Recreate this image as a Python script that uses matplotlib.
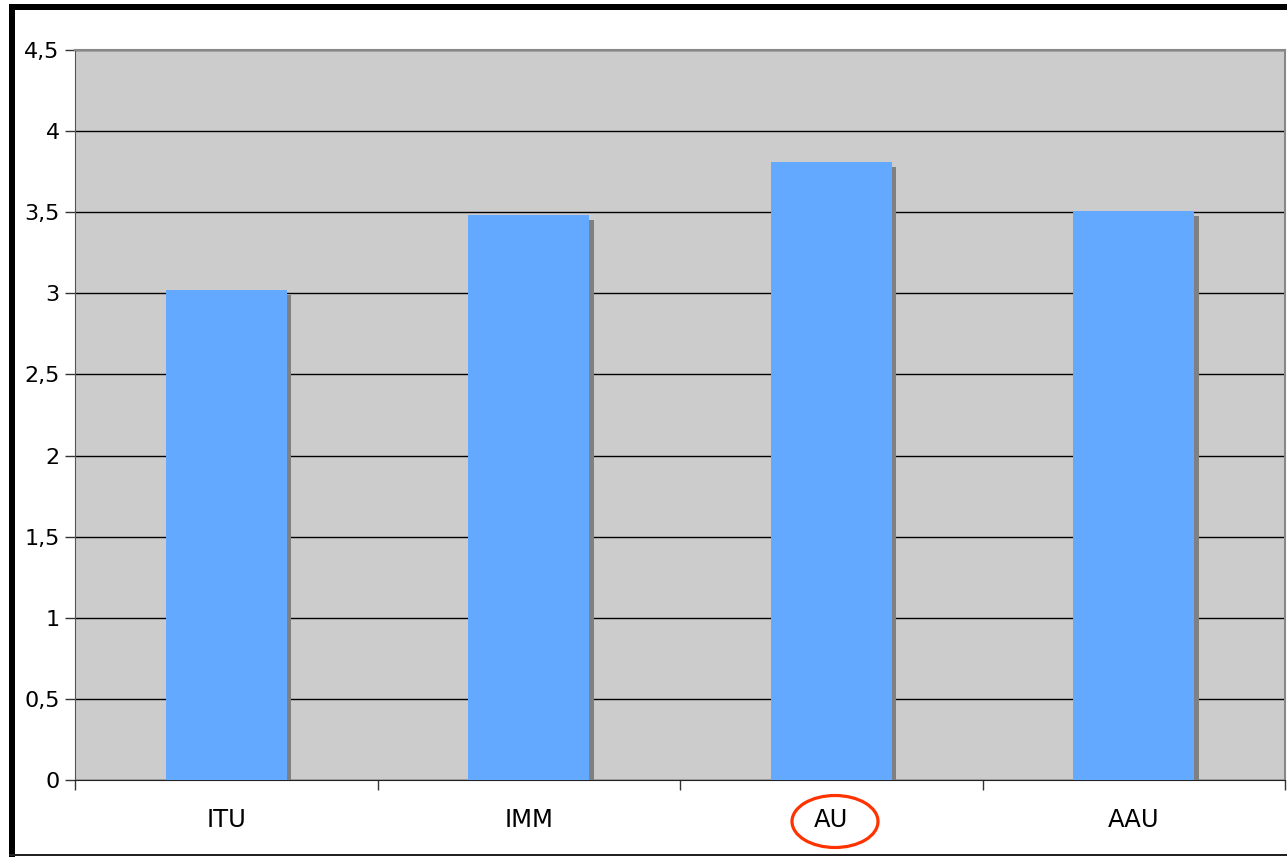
import matplotlib
matplotlib.use("Agg")
import matplotlib.pyplot as plt
import matplotlib.patheffects as pe
from matplotlib.patches import Ellipse, Rectangle
from matplotlib.ticker import FixedLocator, FuncFormatter

categories = ["ITU", "IMM", "AU", "AAU"]
values = [3.02, 3.48, 3.81, 3.51]
yticks = [0, 0.5, 1, 1.5, 2, 2.5, 3, 3.5, 4, 4.5]
highlight = "AU"

W, H = 1287, 857
fig = plt.figure(figsize=(W / 100, H / 100), dpi=100)
fig.patch.set_facecolor("white")
plt.rcParams["font.family"] = ["DejaVu Sans"]

ax = fig.add_axes([75 / W, 1 - 780 / H, (1285 - 75) / W, (780 - 50) / H])
ax.set_facecolor("#CCCCCC")
ax.set_axisbelow(True)

x = list(range(len(categories)))
bars = ax.bar(x, values, width=0.4, color="#63A9FF", edgecolor="none", zorder=3)
for b in bars:
    b.set_path_effects([pe.SimplePatchShadow(offset=(3.2, -3.6), shadow_rgbFace="#808080", alpha=1.0), pe.Normal()])

ax.set_xlim(-0.5, len(categories) - 0.5)
ax.set_ylim(0, 4.5)
ax.set_yticks(yticks)
ax.yaxis.set_major_formatter(FuncFormatter(lambda v, p: ("%g" % v).replace(".", ",")))
ax.yaxis.grid(True, color="black", linewidth=1.0)
ax.tick_params(axis="y", direction="out", length=7, width=1, color="#333333", labelsize=16, pad=4)

ax.set_xticks(x)
ax.set_xticklabels(categories)
ax.tick_params(axis="x", which="major", length=0, labelsize=17.5, pad=20)
ax.xaxis.set_minor_locator(FixedLocator([i - 0.5 for i in range(len(categories) + 1)]))
ax.tick_params(axis="x", which="minor", direction="out", length=7, width=1, color="#333333")

for s in ["top", "right"]:
    ax.spines[s].set_color("#888888")
    ax.spines[s].set_linewidth(1.5)
ax.spines["left"].set_color("#555555")
ax.spines["bottom"].set_color("#222222")

# red ellipse around highlighted label
idx = categories.index(highlight)
ell = Ellipse((835 / W, 1 - 821.5 / H), 86 / W, 52 / H, transform=fig.transFigure,
              fill=False, edgecolor="#FF3300", linewidth=2.3)
fig.patches.append(ell)

# black frame
fig.patches.append(Rectangle((9 / W, 0), 6 / W, 1 - 4 / H, transform=fig.transFigure,
                             facecolor="black", edgecolor="none"))
fig.patches.append(Rectangle((9 / W, 1 - 10 / H), 1 - 9 / W, 6 / H, transform=fig.transFigure,
                             facecolor="black", edgecolor="none"))
fig.patches.append(Rectangle((9 / W, 1 / H), 1 - 9 / W, 2 / H, transform=fig.transFigure,
                             facecolor="#222222", edgecolor="none"))

fig.savefig("out.png", dpi=100)
